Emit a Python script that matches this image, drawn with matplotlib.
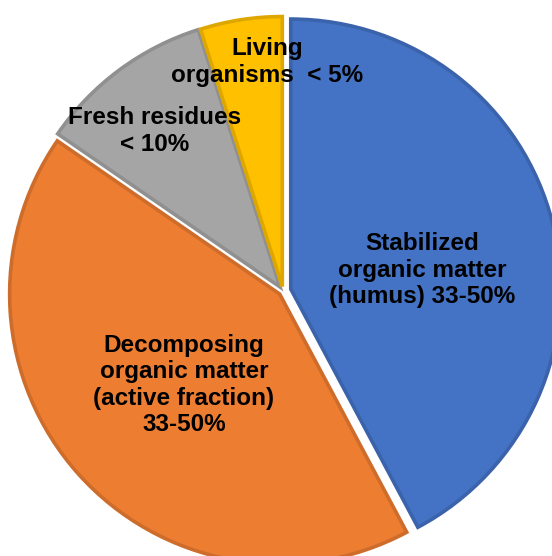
import matplotlib.pyplot as plt
from matplotlib.colors import to_rgb

# slice shares (clockwise from 12 o'clock)
fractions = ["Stabilized", "Decomposing", "Fresh residues", "Living organisms"]
shares = [42.2, 42.4, 10.5, 4.9]
labels = [
    "Stabilized\norganic matter\n(humus) 33-50%",
    "Decomposing\norganic matter\n(active fraction)\n33-50%",
    "Fresh residues\n< 10%",
    "Living\norganisms  < 5%",
]
colors = ["#4472C4", "#ED7D31", "#A5A5A5", "#FFC000"]
# explode here is in data units (pixels), pie does not scale it by radius
explode = [8, 4.5, 5, 4.5]

# label anchor points (pixel coords, y down)
label_pos = [(422, 270), (184, 385), (155, 131), (267, 62)]

W, H = 552, 556
fig = plt.figure(figsize=(W / 100, H / 100), dpi=100)
ax = fig.add_axes([0, 0, 1, 1])

edges = [tuple(c * 0.87 for c in to_rgb(col)) for col in colors]
wedges, _ = ax.pie(shares, colors=colors, explode=explode, startangle=90,
                   counterclock=False, radius=270, center=(283, H - 291),
                   wedgeprops=dict(linewidth=2.6))
for w, ec in zip(wedges, edges):
    w.set_edgecolor(ec)

for txt, (px, py) in zip(labels, label_pos):
    ax.text(px, H - py, txt, ha="center", va="center", fontsize=17.5,
            fontweight="bold", family="Liberation Sans", color="black",
            linespacing=1.2)

ax.set_xlim(0, W)
ax.set_ylim(0, H)
ax.set_aspect("equal")
ax.axis("off")
fig.savefig("out.png", dpi=100, facecolor="white")
